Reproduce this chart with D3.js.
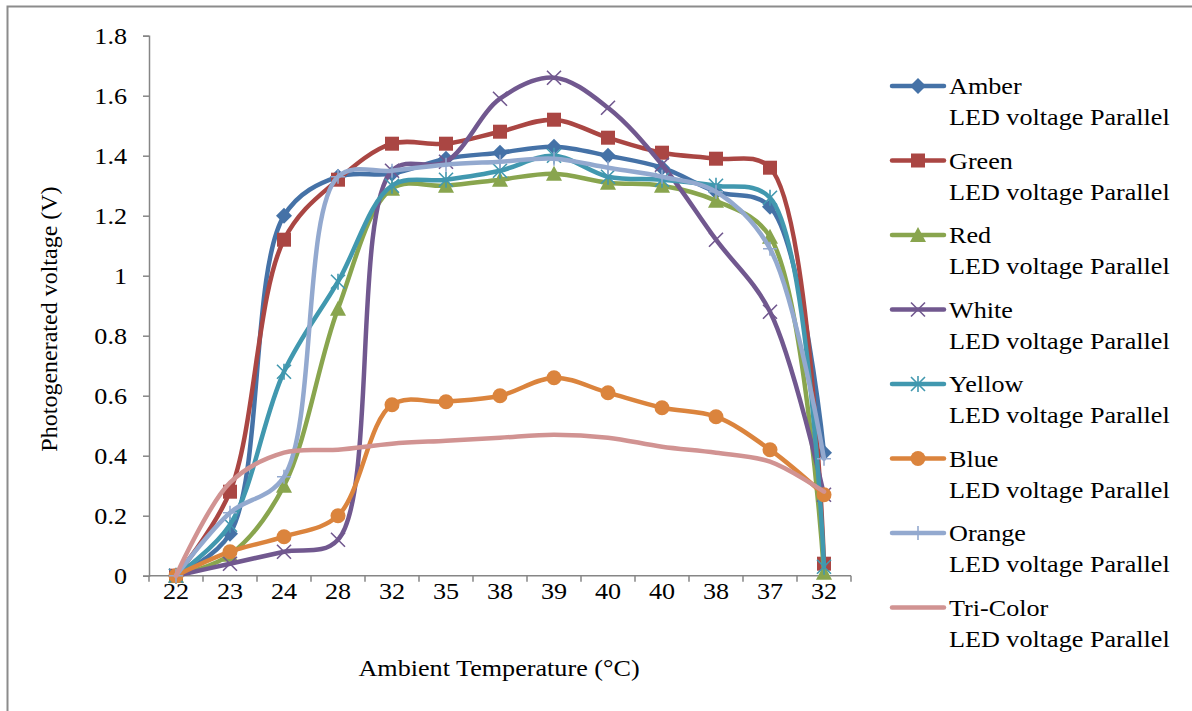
<!DOCTYPE html>
<html>
<head>
<meta charset="utf-8">
<script src="https://cdn.jsdelivr.net/npm/d3@7"></script>
<style>
  html, body { margin: 0; padding: 0; background: #fff; }
  svg { display: block; }
  text { font-family: "Liberation Serif", "Times New Roman", serif; fill: #000; }
</style>
</head>
<body>
<svg id="chart" width="1192" height="711"></svg>
<script>
// Ambient temperature readings along the x axis (in measurement order)
const temperatures = ["22", "23", "24", "28", "32", "35", "38", "39", "40", "40", "38", "37", "32"];

// Photogenerated voltage (V) for each LED colour, parallel connection
const amber    = [0, 0.14, 1.20, 1.33, 1.34, 1.39, 1.41, 1.43, 1.40, 1.36, 1.28, 1.23, 0.41];
const green    = [0, 0.28, 1.12, 1.32, 1.44, 1.44, 1.48, 1.52, 1.46, 1.41, 1.39, 1.36, 0.04];
const red      = [0, 0.07, 0.30, 0.89, 1.29, 1.30, 1.32, 1.34, 1.31, 1.30, 1.25, 1.13, 0.01];
const white    = [0, 0.04, 0.08, 0.12, 1.35, 1.38, 1.59, 1.66, 1.56, 1.37, 1.12, 0.88, 0.27];
const yellow   = [0, 0.17, 0.68, 0.98, 1.30, 1.32, 1.35, 1.40, 1.33, 1.32, 1.30, 1.26, 0.03];
const blue     = [0, 0.08, 0.13, 0.20, 0.57, 0.58, 0.60, 0.66, 0.61, 0.56, 0.53, 0.42, 0.27];
const orange   = [0, 0.21, 0.33, 1.33, 1.35, 1.37, 1.38, 1.39, 1.36, 1.33, 1.28, 1.09, 0.39];
const triColor = [0, 0.31, 0.41, 0.42, 0.44, 0.45, 0.46, 0.47, 0.46, 0.43, 0.41, 0.38, 0.28];

const seriesNames = ["Amber", "Green", "Red", "White", "Yellow", "Blue", "Orange", "Tri-Color"];
const yTicks = [0, 0.2, 0.4, 0.6, 0.8, 1, 1.2, 1.4, 1.6, 1.8];

const series = [
  { name: "Amber",     values: amber,    color: "#4572A7", marker: "diamond" },
  { name: "Green",     values: green,    color: "#AA4643", marker: "square" },
  { name: "Red",       values: red,      color: "#89A54E", marker: "triangle" },
  { name: "White",     values: white,    color: "#71588F", marker: "x" },
  { name: "Yellow",    values: yellow,   color: "#4198AF", marker: "star" },
  { name: "Blue",      values: blue,     color: "#DB843D", marker: "circle" },
  { name: "Orange",    values: orange,   color: "#93A9CF", marker: "plus" },
  { name: "Tri-Color", values: triColor, color: "#D19392", marker: "none" }
];

const FONT_SIZE = 24;
const STRETCH = 1.09;   // glyphs are drawn slightly wide

const svg = d3.select("#chart");

// text helper: places a slightly widened label at (x, y)
function label(parent, x, y, str, anchor, rotate) {
  const tr = rotate
    ? `translate(${x},${y}) rotate(${rotate})`
    : `translate(${x},${y}) scale(${STRETCH},1)`;
  return parent.append("text")
    .attr("transform", tr)
    .attr("text-anchor", anchor || "start")
    .style("font-size", FONT_SIZE + "px")
    .text(str);
}

// outer chart frame
svg.append("rect")
  .attr("x", 7.5).attr("y", 6.5)
  .attr("width", 1300).attr("height", 800)
  .attr("fill", "none").attr("stroke", "#8c8c8c").attr("stroke-width", 2);

const plot = { left: 149, right: 851, top: 35.7, bottom: 575.7 };
const idx = d3.range(temperatures.length);

const xBand = d3.scaleBand().domain(idx).range([plot.left, plot.right]).padding(0);
const xc = i => xBand(i) + xBand.bandwidth() / 2;
const y = d3.scaleLinear().domain([0, 1.8]).range([plot.bottom, plot.top]);

const axisColor = "#868686";

// y axis
const yAxis = svg.append("g")
  .attr("transform", `translate(${plot.left},0)`)
  .call(d3.axisLeft(y).tickValues(yTicks).tickSize(6).tickPadding(16)
    .tickFormat(d => d3.format("~g")(d)));
yAxis.select(".domain").attr("stroke", axisColor).attr("stroke-width", 1.5);
yAxis.selectAll(".tick line").attr("stroke", axisColor).attr("stroke-width", 1.5);
yAxis.selectAll(".tick text")
  .attr("x", -22 / STRETCH)
  .attr("transform", `scale(${STRETCH},1)`)
  .style("font-size", FONT_SIZE + "px")
  .style("font-family", "'Liberation Serif', serif")
  .attr("fill", "#000");

// x axis: ticks at category boundaries, labels at centres
const xAxisG = svg.append("g").attr("transform", `translate(0,${plot.bottom})`);
xAxisG.append("line")
  .attr("x1", plot.left).attr("x2", plot.right)
  .attr("stroke", axisColor).attr("stroke-width", 1.5);
xAxisG.selectAll("line.tk")
  .data(d3.range(temperatures.length + 1))
  .join("line").attr("class", "tk")
  .attr("x1", i => plot.left + i * xBand.bandwidth())
  .attr("x2", i => plot.left + i * xBand.bandwidth())
  .attr("y1", 0).attr("y2", 6)
  .attr("stroke", axisColor).attr("stroke-width", 1.5);
idx.forEach(i => label(xAxisG, xc(i), 23.5, temperatures[i], "middle"));

// axis titles
label(svg, 499, 676, "Ambient Temperature (°C)", "middle");
label(svg, 57, 319, "Photogenerated voltage (V)", "middle", -90);

// marker drawing
function drawMarker(g, type, color) {
  const s = 7;
  switch (type) {
    case "diamond":
      g.append("path").attr("d", `M0,${-s - 1}L${s + 1},0L0,${s + 1}L${-s - 1},0Z`).attr("fill", color);
      break;
    case "square":
      g.append("rect").attr("x", -s).attr("y", -s).attr("width", 2 * s).attr("height", 2 * s).attr("fill", color);
      break;
    case "triangle":
      g.append("path").attr("d", `M0,${-s - 1}L${s + 1},${s}L${-s - 1},${s}Z`).attr("fill", color);
      break;
    case "circle":
      g.append("circle").attr("r", s + 0.5).attr("fill", color);
      break;
    case "x":
      g.append("path").attr("d", `M${-s},${-s}L${s},${s}M${-s},${s}L${s},${-s}`)
        .attr("stroke", color).attr("stroke-width", 1.6).attr("fill", "none");
      break;
    case "star":
      g.append("path").attr("d", `M${-s},${-s}L${s},${s}M${-s},${s}L${s},${-s}M0,${-s - 1}L0,${s + 1}`)
        .attr("stroke", color).attr("stroke-width", 1.6).attr("fill", "none");
      break;
    case "plus":
      g.append("path").attr("d", `M${-s},0L${s},0M0,${-s}L0,${s}`)
        .attr("stroke", color).attr("stroke-width", 1.6).attr("fill", "none");
      break;
  }
}

const line = d3.line()
  .x((d, i) => xc(i))
  .y(d => y(d))
  .curve(d3.curveCatmullRom.alpha(0.5));

// series lines and markers
series.forEach(s => {
  const g = svg.append("g");
  g.append("path")
    .attr("d", line(s.values))
    .attr("fill", "none")
    .attr("stroke", s.color)
    .attr("stroke-width", 4.5)
    .attr("stroke-linejoin", "round")
    .attr("stroke-linecap", "round");
  s.values.forEach((v, i) => {
    const m = g.append("g").attr("transform", `translate(${xc(i)},${y(v)})`);
    drawMarker(m, s.marker, s.color);
  });
});

// legend
const legend = svg.append("g");
series.forEach((s, k) => {
  const yy = 86 + k * 74.5;
  const lg = legend.append("g");
  lg.append("line")
    .attr("x1", 892).attr("x2", 944).attr("y1", yy).attr("y2", yy)
    .attr("stroke", s.color).attr("stroke-width", 4.5).attr("stroke-linecap", "round");
  drawMarker(lg.append("g").attr("transform", `translate(918,${yy})`), s.marker, s.color);
  label(lg, 949, yy + 8, seriesNames[k], "start");
  label(lg, 949, yy + 39, "LED voltage Parallel", "start");
});
</script>
</body>
</html>
